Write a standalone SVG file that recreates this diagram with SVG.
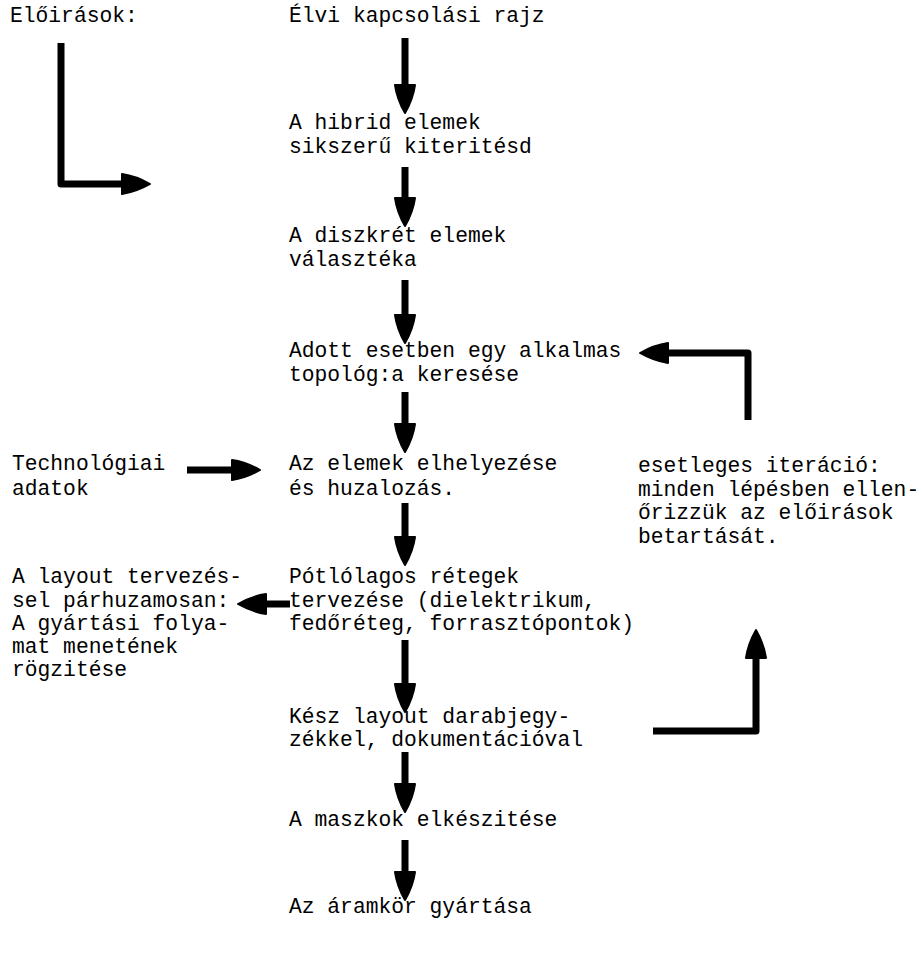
<svg xmlns="http://www.w3.org/2000/svg" width="919" height="954" viewBox="0 0 919 954">
<defs>
<style>
text{font-family:"Liberation Mono","DejaVu Sans Mono",monospace;font-size:21.3px;fill:#000}
.c{fill:none;stroke:#000;stroke-width:7;stroke-linejoin:round;stroke-linecap:butt}
</style>
<marker id="ah" markerUnits="userSpaceOnUse" viewBox="0 -12 30 24" markerWidth="30" markerHeight="24" refX="4" refY="0" orient="auto" overflow="visible">
<path d="M0,-10 Q14,-8 28,0 Q14,8 0,10 Z" fill="#000" stroke="#000" stroke-width="2" stroke-linejoin="round"/>
</marker>
</defs>
<rect width="919" height="954" fill="#fff"/>
<g id="connectors">
<polyline class="c" points="61,43 61,184 126,184" marker-end="url(#ah)"/>
<line class="c" x1="405" y1="38" x2="405" y2="89" marker-end="url(#ah)"/>
<line class="c" x1="405" y1="167" x2="405" y2="202" marker-end="url(#ah)"/>
<line class="c" x1="405" y1="280" x2="405" y2="319" marker-end="url(#ah)"/>
<line class="c" x1="405" y1="392" x2="405" y2="428" marker-end="url(#ah)"/>
<line class="c" x1="405" y1="503" x2="405" y2="541" marker-end="url(#ah)"/>
<line class="c" x1="405" y1="640" x2="405" y2="688" marker-end="url(#ah)"/>
<line class="c" x1="405" y1="752" x2="405" y2="788" marker-end="url(#ah)"/>
<line class="c" x1="405" y1="840" x2="405" y2="876" marker-end="url(#ah)"/>
<line class="c" x1="187" y1="470" x2="236" y2="470" marker-end="url(#ah)"/>
<line class="c" x1="290" y1="604" x2="262" y2="604" marker-end="url(#ah)"/>
<polyline class="c" points="748,420 748,353 664,353" marker-end="url(#ah)"/>
<polyline class="c" points="653,731 756,731 756,654" marker-end="url(#ah)"/>
</g>
<g id="n-eloirasok"><text x="10" y="22">Előirások:</text></g>
<g id="n-elvi"><text x="289" y="22">Élvi kapcsolási rajz</text></g>
<g id="n-hibrid"><text x="289" y="129">A hibrid elemek</text><text x="289" y="153">sikszerű kiteritésd</text></g>
<g id="n-diszkret"><text x="289" y="242">A diszkrét elemek</text><text x="289" y="266">választéka</text></g>
<g id="n-topologia"><text x="289" y="357">Adott esetben egy alkalmas</text><text x="289" y="381">topológ:a keresése</text></g>
<g id="n-elhelyezes"><text x="289" y="470">Az elemek elhelyezése</text><text x="289" y="495">és huzalozás.</text></g>
<g id="n-technologiai"><text x="12" y="470">Technológiai</text><text x="12" y="495">adatok</text></g>
<g id="n-iteracio"><text x="638" y="472">esetleges iteráció:</text><text x="638" y="496">minden lépésben ellen-</text><text x="638" y="519">őrizzük az előirások</text><text x="638" y="543">betartását.</text></g>
<g id="n-potlolagos"><text x="289" y="583">Pótlólagos rétegek</text><text x="289" y="607">tervezése (dielektrikum,</text><text x="289" y="630">fedőréteg, forrasztópontok)</text></g>
<g id="n-layout-parhuzamos"><text x="12" y="583">A layout tervezés-</text><text x="12" y="607">sel párhuzamosan:</text><text x="12" y="630">A gyártási folya-</text><text x="12" y="653">mat menetének</text><text x="12" y="676">rögzitése</text></g>
<g id="n-kesz"><text x="289" y="723">Kész layout darabjegy-</text><text x="289" y="746">zékkel, dokumentációval</text></g>
<g id="n-maszkok"><text x="289" y="826">A maszkok elkészitése</text></g>
<g id="n-aramkor"><text x="289" y="913">Az áramkör gyártása</text></g>
</svg>
